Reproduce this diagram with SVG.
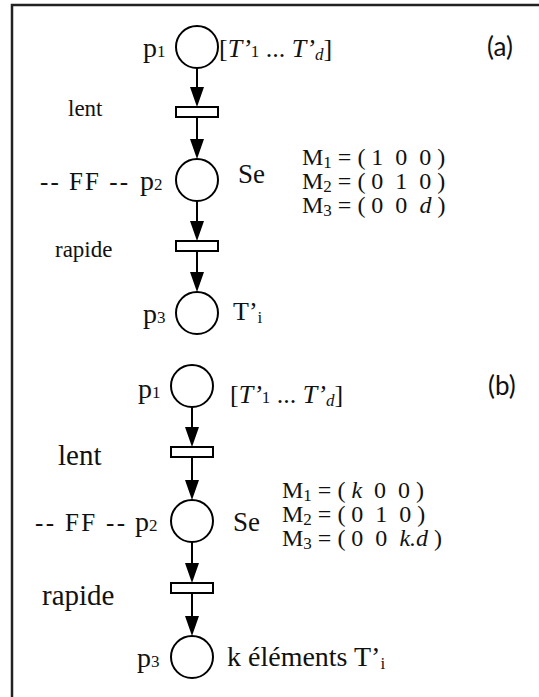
<svg xmlns="http://www.w3.org/2000/svg" width="539" height="697" viewBox="0 0 539 697">
<style>
  .frame{fill:none;stroke:#222;stroke-width:2.5}
  .place{fill:#fff;stroke:#000;stroke-width:2}
  .trans{fill:#fff;stroke:#000;stroke-width:2}
  .arc{stroke:#000;stroke-width:2;fill:none;marker-end:url(#ah)}
  text{font-family:"Liberation Serif","Times New Roman",serif;fill:#111;white-space:pre}
  .pl{font-size:28px}
  .sub{font-size:17px}
  .br{font-size:26px}
  .m{font-size:24px}
  .ff{font-size:25px}
  .lab{font-family:Lato,"Open Sans",sans-serif;font-size:26px}
  .it{font-style:italic}
</style>
<defs>
  <marker id="ah" markerUnits="userSpaceOnUse" markerWidth="20" markerHeight="14" refX="10" refY="7" orient="auto">
    <path d="M0,0 L20,7 L0,14 z" fill="#000"/>
  </marker>
</defs>
<rect class="frame" x="12" y="5" width="540" height="710"/>

<g id="connectors">
  <line class="arc" x1="197" y1="68" x2="197" y2="97"/>
  <line class="arc" x1="197" y1="117" x2="197" y2="149"/>
  <line class="arc" x1="197" y1="201" x2="197" y2="231"/>
  <line class="arc" x1="197" y1="251" x2="197" y2="282"/>
  <line class="arc" x1="192" y1="407" x2="192" y2="437"/>
  <line class="arc" x1="192" y1="457" x2="192" y2="490"/>
  <line class="arc" x1="192" y1="542" x2="192" y2="573"/>
  <line class="arc" x1="192" y1="593" x2="192" y2="626"/>
</g>

<!-- (a) -->
<g id="a-p1">
  <circle class="place" cx="197" cy="47" r="21"/>
  <text class="pl" x="143" y="57">p<tspan class="sub">1</tspan></text>
  <text class="br" x="219" y="57">[<tspan class="it">T’</tspan><tspan class="sub">1</tspan> ... <tspan class="it">T’</tspan><tspan class="it sub" dy="3">d</tspan><tspan dy="-3">]</tspan></text>
</g>
<text class="lab" x="487" y="56">(a)</text>
<g id="a-lent">
  <rect class="trans" x="176" y="107" width="42" height="10"/>
  <text x="68" y="116" font-size="23">lent</text>
</g>
<g id="a-p2">
  <circle class="place" cx="197" cy="180" r="21"/>
  <text class="ff" x="40" y="190" textLength="88" lengthAdjust="spacing">-- FF --</text>
  <text class="pl" x="140" y="190">p<tspan class="sub">2</tspan></text>
  <text x="238" y="183" font-size="27">Se</text>
</g>
<g id="a-marks">
  <text class="m" x="302" y="165">M<tspan class="sub" dy="3">1</tspan><tspan dy="-3"> = ( 1  0  0 )</tspan></text>
  <text class="m" x="302" y="189">M<tspan class="sub" dy="3">2</tspan><tspan dy="-3"> = ( 0  1  0 )</tspan></text>
  <text class="m" x="302" y="213">M<tspan class="sub" dy="3">3</tspan><tspan dy="-3"> = ( 0  0  </tspan><tspan class="it">d</tspan> )</text>
</g>
<g id="a-rapide">
  <rect class="trans" x="176" y="241" width="42" height="10"/>
  <text x="55" y="257" font-size="23">rapide</text>
</g>
<g id="a-p3">
  <circle class="place" cx="197" cy="313" r="21"/>
  <text class="pl" x="143" y="323">p<tspan class="sub">3</tspan></text>
  <text x="233" y="320" font-size="26">T’<tspan class="sub" dy="3">i</tspan></text>
</g>

<!-- (b) -->
<g id="b-p1">
  <circle class="place" cx="192" cy="386" r="21"/>
  <text class="pl" x="138" y="398">p<tspan class="sub">1</tspan></text>
  <text class="br" x="230" y="403">[<tspan class="it">T’</tspan><tspan class="sub">1</tspan> ... <tspan class="it">T’</tspan><tspan class="it sub" dy="3">d</tspan><tspan dy="-3">]</tspan></text>
</g>
<text class="lab" x="488" y="395">(b)</text>
<g id="b-lent">
  <rect class="trans" x="171" y="447" width="42" height="10"/>
  <text x="58" y="465" font-size="29">lent</text>
</g>
<g id="b-p2">
  <circle class="place" cx="192" cy="521" r="21"/>
  <text class="ff" x="35" y="531" textLength="90" lengthAdjust="spacing">-- FF --</text>
  <text class="pl" x="135" y="531">p<tspan class="sub">2</tspan></text>
  <text x="233" y="531" font-size="27">Se</text>
</g>
<g id="b-marks">
  <text class="m" x="282" y="498">M<tspan class="sub" dy="3">1</tspan><tspan dy="-3"> = ( </tspan><tspan class="it">k</tspan>  0  0 )</text>
  <text class="m" x="282" y="522">M<tspan class="sub" dy="3">2</tspan><tspan dy="-3"> = ( 0  1  0 )</tspan></text>
  <text class="m" x="282" y="546">M<tspan class="sub" dy="3">3</tspan><tspan dy="-3"> = ( 0  0  </tspan><tspan class="it">k.d</tspan> )</text>
</g>
<g id="b-rapide">
  <rect class="trans" x="171" y="583" width="42" height="10"/>
  <text x="42" y="605" font-size="29">rapide</text>
</g>
<g id="b-p3">
  <circle class="place" cx="192" cy="657" r="21"/>
  <text class="pl" x="137" y="667">p<tspan class="sub">3</tspan></text>
  <text x="227" y="666" font-size="28">k éléments T’<tspan class="sub" dy="3">i</tspan></text>
</g>
</svg>
